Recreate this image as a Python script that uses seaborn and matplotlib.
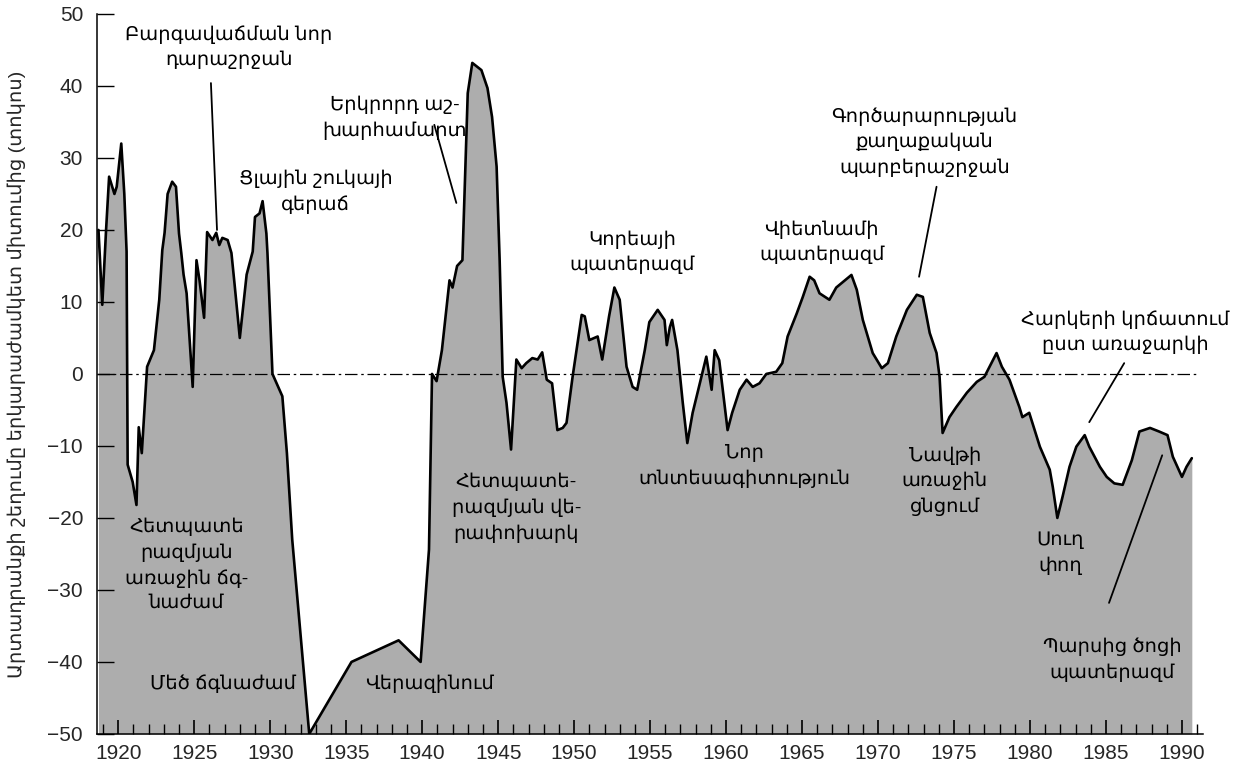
import numpy as np
import pandas as pd
import matplotlib
matplotlib.use("Agg")
import matplotlib.pyplot as plt
import seaborn as sns

# ---- data ----
years = [1918.7, 1918.95, 1919.2, 1919.4, 1919.75, 1919.9, 1920.2, 1920.4, 1920.55, 1920.62,
         1920.95, 1921.2, 1921.35, 1921.55, 1921.9, 1922.35, 1922.7, 1922.9, 1923.05, 1923.25,
         1923.55, 1923.8, 1924.0, 1924.15, 1924.3, 1924.5, 1924.9, 1925.15, 1925.35, 1925.65,
         1925.85, 1926.2, 1926.45, 1926.65, 1926.85, 1927.2, 1927.45, 1927.65, 1928.0, 1928.45,
         1928.85, 1929.0, 1929.3, 1929.5, 1929.75, 1929.82, 1930.15, 1930.8, 1931.1, 1931.45,
         1932.57, 1935.35, 1938.45, 1939.9, 1940.45, 1940.65, 1940.95, 1941.3, 1941.8, 1942.0,
         1942.3, 1942.65, 1943.0, 1943.3, 1943.9, 1944.3, 1944.6, 1944.9, 1945.1, 1945.3,
         1945.55, 1945.85, 1946.2, 1946.55, 1946.85, 1947.25, 1947.6, 1947.9, 1948.2, 1948.55,
         1948.9, 1949.25, 1949.5, 1949.9, 1950.5, 1950.7, 1951.0, 1951.55, 1951.85, 1952.3,
         1952.65, 1953.0, 1953.45, 1953.85, 1954.15, 1954.65, 1954.95, 1955.5, 1955.95, 1956.1,
         1956.3, 1956.45, 1956.8, 1957.15, 1957.45, 1957.8, 1958.7, 1959.05, 1959.25, 1959.55,
         1960.1, 1960.4, 1960.9, 1961.35, 1961.75, 1962.2, 1962.65, 1963.3, 1963.7, 1964.05,
         1964.65, 1965.05, 1965.5, 1965.8, 1966.15, 1966.8, 1967.25, 1968.25, 1968.6, 1969.0,
         1969.65, 1970.25, 1970.65, 1971.2, 1971.9, 1972.55, 1972.95, 1973.4, 1973.85, 1974.05,
         1974.25, 1974.7, 1975.15, 1975.85, 1976.5, 1977.0, 1977.8, 1978.15, 1978.65, 1979.3,
         1979.5, 1979.95, 1980.65, 1981.3, 1981.5, 1981.8, 1982.15, 1982.6, 1983.05, 1983.6,
         1983.9, 1984.6, 1985.05, 1985.55, 1986.1, 1986.7, 1987.2, 1987.9, 1988.5, 1989.05,
         1989.4, 1990.0, 1990.3, 1990.65]

deviation = [20, 9.6, 20, 27.4, 25, 26, 32, 25, 17, -12.6,
             -15, -18.2, -7.4, -11, 1, 3.3, 10.3, 17.2, 19.6, 25,
             26.7, 26, 19.5, 16.8, 13.8, 11.2, -1.8, 15.8, 13, 7.8,
             19.7, 18.6, 19.6, 17.9, 18.9, 18.6, 16.8, 12.6, 5, 13.8,
             17, 21.8, 22.3, 24, 19.5, 16.8, 0, -3.1, -11, -23,
             -50, -40, -37, -40, -24.4, 0, -1, 3.3, 13, 12,
             15, 15.8, 39, 43.2, 42.2, 39.7, 35.7, 28.8, 15.8, -0.4,
             -4, -10.5, 2, 0.8, 1.5, 2.2, 2, 3, -0.8, -1.3,
             -7.8, -7.5, -6.8, -0.4, 8.2, 8, 4.7, 5.2, 2, 8,
             12, 10.3, 1, -1.8, -2.2, 3.3, 7.2, 8.9, 7.5, 4,
             6.5, 7.5, 3.3, -4, -9.6, -5.4, 2.4, -2.2, 3.3, 1.9,
             -7.8, -5.4, -2.2, -0.8, -1.8, -1.3, 0, 0.3, 1.5, 5.2,
             8.4, 10.7, 13.5, 13, 11.2, 10.3, 12, 13.75, 11.7, 7.5,
             2.9, 0.8, 1.5, 5.2, 8.9, 11, 10.7, 5.7, 2.9, -0.4,
             -8.2, -6, -4.6, -2.6, -1.1, -0.4, 2.9, 1, -0.8, -4.6,
             -6, -5.4, -10.1, -13.3, -15.7, -20, -17, -12.9, -10.1, -8.5,
             -10.1, -12.9, -14.3, -15.2, -15.4, -12, -8, -7.5, -8, -8.5,
             -11.5, -14.3, -12.9, -11.7]

x_ticks = [1920, 1925, 1930, 1935, 1940, 1945, 1950, 1955, 1960, 1965, 1970, 1975, 1980, 1985, 1990]
y_ticks = [50, 40, 30, 20, 10, 0, -10, -20, -30, -40, -50]

ylabel_text = "Արտադրանքի շեղումը երկարաժամկետ միտումից (տոկոս)"

# annotations: text, (x, y) center
labels = [
    ("Բարգավաճման նոր\nդարաշրջան", 1927.3, 45.4),
    ("Երկրորդ աշ-\nխարհամարտ", 1938.2, 35.6),
    ("Ցլային շուկայի\nգերաճ", 1933.0, 25.3),
    ("Կորեայի\nպատերազմ", 1953.8, 16.9),
    ("Վիետնամի\nպատերազմ", 1966.3, 18.3),
    ("Գործարարության\nքաղաքական\nպարբերաշրջան", 1973.05, 32.2),
    ("Հարկերի կրճատում\nըստ առաջարկի", 1986.3, 5.8),
    ("Հետպատե\nրազմյան\nառաջին ճգ-\nնաժամ", 1924.5, -26.5),
    ("Մեծ ճգնաժամ", 1926.9, -43.0),
    ("Վերազինում", 1940.5, -43.0),
    ("Հետպատե-\nրազմյան վե-\nրափոխարկ", 1946.2, -18.6),
    ("Նոր\nտնտեսագիտություն", 1961.2, -12.8),
    ("Նավթի\nառաջին\nցնցում", 1974.4, -14.9),
    ("Սուղ\nփող", 1982.0, -24.9),
    ("Պարսից ծոցի\nպատերազմ", 1985.4, -39.7),
]

# pointer lines: (x0, y0) -> (x1, y1)
pointers = [
    ((1926.1, 40.4), (1926.5, 20.0)),
    ((1940.8, 34.6), (1942.25, 23.75)),
    ((1973.85, 26.0), (1972.7, 13.5)),
    ((1986.2, 1.5), (1983.9, -6.7)),
    ((1985.2, -31.8), (1988.7, -11.3)),
]

# ---- style ----
sns.set_style("white")
plt.rcParams['font.family'] = ['Liberation Sans', 'DejaVu Sans']
plt.rcParams['axes.unicode_minus'] = True

fig = plt.figure(figsize=(12.43, 7.75), dpi=100)
ax = fig.add_axes([0.078, 0.053, 0.89, 0.929])
ax.set_axisbelow(False)

df = pd.DataFrame({"year": years, "dev": deviation})

ax.fill_between(df["year"], df["dev"], -50, color="#adadad", linewidth=0, zorder=1)
sns.lineplot(data=df, x="year", y="dev", ax=ax, color="black", linewidth=1.9,
             sort=False, estimator=None, zorder=3)

ax.hlines(0, 1918.6, df["year"].iloc[-1] + 0.3, colors="black", linewidth=0.9,
          linestyles=(0, (10, 3, 2, 3)), zorder=2)

ax.set_xlim(1918.6, 1991.4)
ax.set_ylim(-50, 50)
ax.set_xticks(x_ticks)
ax.set_xticks(np.arange(1919, 1992, 1), minor=True)
ax.set_yticks(y_ticks)
ax.tick_params(axis="x", which="major", direction="in", length=10, width=1.2,
               labelsize=15, pad=7, color="black", bottom=True)
ax.tick_params(axis="x", which="minor", direction="in", length=7, width=1.0,
               color="black", bottom=True)
ax.tick_params(axis="y", which="major", direction="in", length=12, width=1.0,
               labelsize=15, pad=10, color="black", left=True)

for s in ["top", "right"]:
    ax.spines[s].set_visible(False)
for s in ["left", "bottom"]:
    ax.spines[s].set_color("black")
    ax.spines[s].set_linewidth(1.1)
    ax.spines[s].set_zorder(5)

ax.set_xlabel("")
ax.set_ylabel(ylabel_text, fontsize=14)
ax.yaxis.set_label_coords(-0.064, 0.5)

for txt, xx, yy in labels:
    ax.text(xx, yy, txt, ha="center", va="center", fontsize=14, linespacing=1.5,
            color="black", zorder=4)

for (x0, y0), (x1, y1) in pointers:
    ax.annotate("", xy=(x1, y1), xytext=(x0, y0),
                arrowprops=dict(arrowstyle="-", color="black", lw=1.3,
                                shrinkA=0, shrinkB=0), zorder=4)

fig.savefig("out.png", dpi=100)
